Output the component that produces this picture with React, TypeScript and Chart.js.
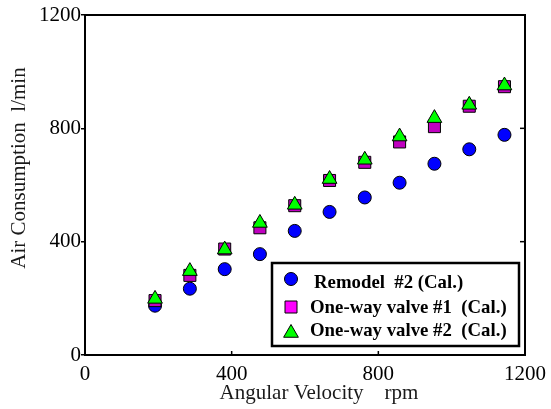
import React, { useEffect, useRef } from 'react';
import { Chart, registerables } from 'chart.js';

Chart.register(...registerables);

// Angular velocity (rpm) shared by all three calculated series
const rpm = [191, 286, 381, 477, 572, 667, 763, 858, 953, 1048, 1144];
// Air consumption (l/min)
const remodel2 = [174, 234, 303, 356, 438, 505, 556, 608, 675, 726, 777];
const valve1 = [192, 281, 374, 449, 527, 616, 680, 752, 806, 878, 947];
const valve2 = [198, 296, 372, 466, 530, 621, 689, 771, 836, 883, 951];

const axisTicks = [0, 400, 800, 1200];
const innerTicks = [400, 800];
const seriesLabels = ['Remodel  #2 (Cal.)', 'One-way valve #1  (Cal.)', 'One-way valve #2  (Cal.)'];
const xTitle = 'Angular Velocity    rpm';
const yTitle = 'Air Consumption  l/min';

const SERIF = "'Liberation Serif', 'Times New Roman', Times, serif";

const toPoints = (ys: number[]) => rpm.map((x, i) => ({ x, y: ys[i] }));

function drawMarker(ctx: CanvasRenderingContext2D, kind: string, x: number, y: number, fill: string) {
  ctx.beginPath();
  if (kind === 'circle') {
    ctx.arc(x, y, 6.5, 0, Math.PI * 2);
  } else if (kind === 'rect') {
    ctx.rect(x - 6, y - 6, 12, 12);
  } else {
    const r = 8.5;
    ctx.moveTo(x, y - r);
    ctx.lineTo(x + r * Math.sin((2 * Math.PI) / 3), y + r / 2);
    ctx.lineTo(x - r * Math.sin((2 * Math.PI) / 3), y + r / 2);
    ctx.closePath();
  }
  ctx.fillStyle = fill;
  ctx.fill();
  ctx.lineWidth = 1;
  ctx.strokeStyle = '#000';
  ctx.stroke();
}

const overlay = {
  id: 'overlay',
  afterDraw(chart: any) {
    const { ctx, chartArea: a, scales } = chart;
    const xs = scales.x;
    const ys = scales.y;
    ctx.save();

    // inward ticks on the bottom and right frame
    ctx.strokeStyle = '#000';
    ctx.lineWidth = 1.5;
    for (const v of innerTicks) {
      const px = xs.getPixelForValue(v);
      ctx.beginPath();
      ctx.moveTo(px, a.bottom);
      ctx.lineTo(px, a.bottom - 4);
      ctx.stroke();
      const py = ys.getPixelForValue(v);
      ctx.beginPath();
      ctx.moveTo(a.right, py);
      ctx.lineTo(a.right - 5, py);
      ctx.stroke();
    }

    // axis titles
    ctx.fillStyle = '#1a1a1a';
    ctx.font = `21px ${SERIF}`;
    ctx.textAlign = 'center';
    ctx.textBaseline = 'alphabetic';
    ctx.fillText(xTitle, (a.left + a.right) / 2 + 14, a.bottom + 44);
    ctx.save();
    ctx.translate(a.left - 60, (a.top + a.bottom) / 2 - 17);
    ctx.rotate(-Math.PI / 2);
    ctx.fillText(yTitle, 0, 0);
    ctx.restore();

    // legend box
    const lx = a.left + 187;
    const ly = a.top + 248;
    const lw = 247;
    const lh = 83;
    ctx.fillStyle = '#fff';
    ctx.fillRect(lx, ly, lw, lh);
    ctx.lineWidth = 2.5;
    ctx.strokeStyle = '#000';
    ctx.strokeRect(lx, ly, lw, lh);

    const kinds = ['circle', 'rect', 'triangle'];
    const fills = ['#0000ff', '#ff00ff', '#00ff00'];
    const markerY = [16, 44, 70];
    const textX = [42, 38, 38];
    const baseY = [25, 50, 73];
    ctx.font = `bold 18.8px ${SERIF}`;
    ctx.textAlign = 'left';
    ctx.textBaseline = 'alphabetic';
    for (let i = 0; i < 3; i++) {
      drawMarker(ctx, kinds[i], lx + 19, ly + markerY[i], fills[i]);
      ctx.fillStyle = '#000';
      ctx.fillText(seriesLabels[i], lx + textX[i], ly + baseY[i]);
    }
    ctx.restore();
  },
};

export default function App() {
  const canvasRef = useRef<HTMLCanvasElement | null>(null);

  useEffect(() => {
    const canvas = canvasRef.current;
    if (!canvas) return;

    const tickFont = { family: SERIF, size: 21 };
    const frame = { display: true, color: '#000', width: 2 };
    const plain = (v: any) => String(v);

    const chart = new Chart(canvas, {
      type: 'scatter',
      data: {
        datasets: [
          {
            label: seriesLabels[0],
            data: toPoints(remodel2),
            pointStyle: 'circle',
            pointRadius: 6.5,
            backgroundColor: '#0000ff',
            borderColor: '#000',
            borderWidth: 1,
            order: 2,
          },
          {
            label: seriesLabels[1],
            data: toPoints(valve1),
            pointStyle: 'rect',
            pointRadius: 8.5,
            backgroundColor: '#c000c0',
            borderColor: '#000',
            borderWidth: 1,
            order: 1,
          },
          {
            label: seriesLabels[2],
            data: toPoints(valve2),
            pointStyle: 'triangle',
            pointRadius: 8.5,
            backgroundColor: '#00ff00',
            borderColor: '#000',
            borderWidth: 1,
            order: 0,
          },
        ],
      },
      options: {
        responsive: false,
        animation: false,
        devicePixelRatio: 1,
        layout: { padding: { left: 0, top: 15, right: 26, bottom: 0 } },
        plugins: {
          legend: { display: false },
          tooltip: { enabled: false },
        },
        scales: {
          x: {
            type: 'linear',
            position: 'bottom',
            min: 0,
            max: 1200,
            afterBuildTicks: (s: any) => {
              s.ticks = axisTicks.map((value) => ({ value }));
            },
            afterFit: (s: any) => {
              s.height = 54;
              s.paddingLeft = 0;
              s.paddingRight = 0;
            },
            ticks: { font: tickFont, color: '#000', padding: 7, maxRotation: 0, callback: plain },
            grid: { drawOnChartArea: false, drawTicks: false },
            border: frame,
          },
          y: {
            type: 'linear',
            position: 'left',
            min: 0,
            max: 1200,
            afterBuildTicks: (s: any) => {
              s.ticks = axisTicks.map((value) => ({ value }));
            },
            afterFit: (s: any) => {
              s.width = 85;
              s.paddingTop = 0;
              s.paddingBottom = 0;
            },
            ticks: { font: tickFont, color: '#000', padding: 0, callback: plain },
            grid: { drawOnChartArea: false, drawTicks: true, tickLength: 4, color: '#000', lineWidth: 1.5 },
            border: frame,
          },
          x2: {
            type: 'linear',
            position: 'top',
            min: 0,
            max: 1200,
            ticks: { display: false },
            grid: { drawOnChartArea: false, drawTicks: false },
            afterFit: (s: any) => {
              s.height = 0;
              s.paddingLeft = 0;
              s.paddingRight = 0;
            },
            border: frame,
          },
          y2: {
            type: 'linear',
            position: 'right',
            min: 0,
            max: 1200,
            ticks: { display: false },
            grid: { drawOnChartArea: false, drawTicks: false },
            afterFit: (s: any) => {
              s.width = 0;
              s.paddingTop = 0;
              s.paddingBottom = 0;
            },
            border: frame,
          },
        },
      },
      plugins: [overlay],
    } as any);

    return () => chart.destroy();
  }, []);

  return (
    <div style={{ position: 'fixed', left: 0, top: 0, width: 551, height: 409, background: '#fff' }}>
      <canvas ref={canvasRef} width={551} height={409} />
    </div>
  );
}
